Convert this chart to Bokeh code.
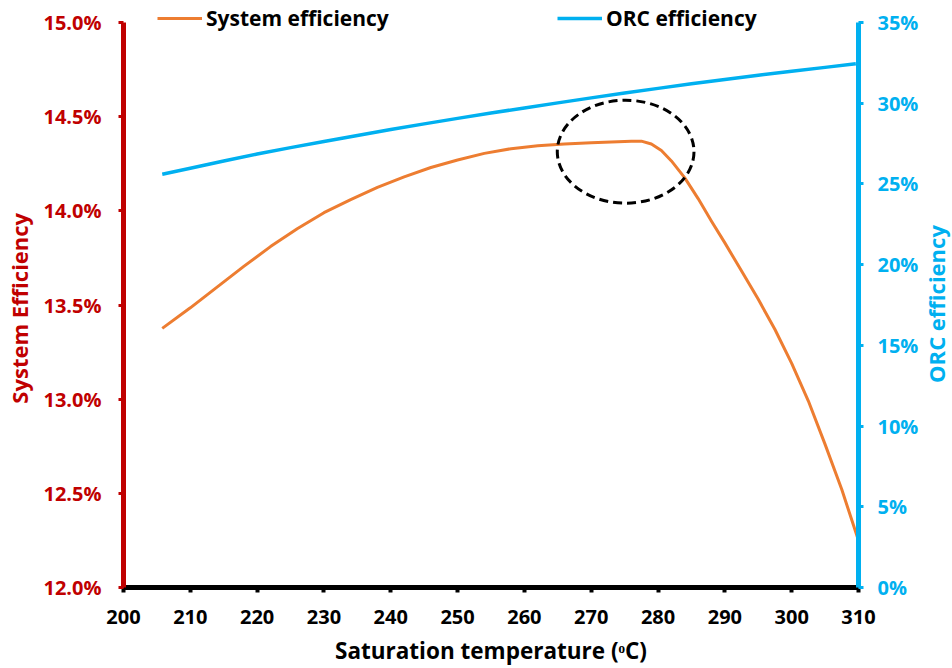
import math
from bokeh.plotting import figure
from bokeh.models import (Range1d, LinearAxis, FixedTicker, PrintfTickFormatter, Legend,
                          LegendItem, Label)
from bokeh.embed import file_html
from bokeh.resources import INLINE

# ---- data ----
sys_temp = [205.8, 210, 214, 218, 222, 226, 230, 234, 238, 242, 246, 250, 254, 258, 262, 266,
            270, 274, 276, 277.5, 279, 280.5, 282, 284, 286, 288, 290, 292.5, 295, 297.5, 300,
            302.5, 305, 307.5, 310]
sys_eff = [13.376, 13.485, 13.595, 13.705, 13.81, 13.905, 13.99, 14.06, 14.125, 14.18, 14.23,
           14.27, 14.305, 14.33, 14.345, 14.355, 14.362, 14.367, 14.369, 14.37, 14.355, 14.32,
           14.265, 14.175, 14.065, 13.945, 13.83, 13.68, 13.53, 13.37, 13.19, 12.99, 12.76,
           12.52, 12.25]

orc_temp = [205.8, 210, 215, 220, 225, 230, 235, 240, 245, 250, 255, 260, 265, 270, 275, 280,
            285, 290, 295, 300, 305, 309.6]
orc_eff = [25.6, 25.97, 26.42, 26.85, 27.25, 27.63, 28.0, 28.37, 28.72, 29.06, 29.39, 29.71,
           30.02, 30.33, 30.63, 30.92, 31.2, 31.47, 31.73, 31.98, 32.22, 32.45]

x_ticks = [200, 210, 220, 230, 240, 250, 260, 270, 280, 290, 300, 310]
left_ticks = [12.0, 12.5, 13.0, 13.5, 14.0, 14.5, 15.0]
right_ticks = [0, 5, 10, 15, 20, 25, 30, 35]
x_bounds = (200, 310)
left_bounds = (12.0, 15.0)
right_bounds = (0, 35)

ellipse_x = [275.15]
ellipse_y = [14.314]
ellipse_w = [20.46]
ellipse_h = [0.547]

RED = "#C00000"
BLUE = "#00B0F0"
ORANGE = "#ED7D31"
FONT = "Open Sans"
NBSP = "\u00a0"

# frame spans the full height above the x axis; axes are bounded to their value range
FRAME_W = 735
FRAME_H = 587
AXIS_H = 565
left_top = left_bounds[0] + (left_bounds[1] - left_bounds[0]) * FRAME_H / AXIS_H
right_top = right_bounds[0] + (right_bounds[1] - right_bounds[0]) * FRAME_H / AXIS_H

p = figure(width=952, height=668, x_range=Range1d(*x_bounds),
           y_range=Range1d(left_bounds[0], left_top),
           output_backend="svg", toolbar_location=None,
           min_border_left=123, min_border_right=94, min_border_top=0, min_border_bottom=81)
p.extra_y_ranges = {"orc": Range1d(right_bounds[0], right_top)}
p.outline_line_color = None
p.xgrid.visible = False
p.ygrid.visible = False
p.background_fill_color = "white"
p.border_fill_color = "white"

r_orc = p.line(orc_temp, orc_eff, y_range_name="orc", line_color=BLUE, line_width=3.5,
               line_join="round")
r_sys = p.line(sys_temp, sys_eff, line_color=ORANGE, line_width=3, line_join="round")
p.ellipse(x=ellipse_x, y=ellipse_y, width=ellipse_w, height=ellipse_h,
          fill_color=None, line_color="black", line_width=3, line_dash="9 5")

def style_axis(ax, color, label, tick_w):
    ax.axis_line_color = color
    ax.axis_line_width = 5
    ax.major_tick_line_color = color
    ax.major_tick_line_width = tick_w
    ax.major_tick_in = 0
    ax.major_tick_out = 5
    ax.minor_tick_line_color = None
    ax.major_label_text_font = FONT
    ax.major_label_text_font_style = "bold"
    ax.major_label_text_font_size = "20px"
    ax.major_label_text_color = color
    ax.axis_label = label
    ax.axis_label_text_font = FONT
    ax.axis_label_text_font_style = "bold"
    ax.axis_label_text_font_size = "22px"
    ax.axis_label_text_color = color

# x axis
xa = p.xaxis[0]
xa.ticker = FixedTicker(ticks=x_ticks)
style_axis(xa, "black", "Saturation temperature (ᵒC)", 4)
xa.axis_label_text_font_size = "22.5px"
xa.major_label_standoff = 17
xa.axis_label_standoff = 8

# left axis
ya = p.yaxis[0]
ya.ticker = FixedTicker(ticks=left_ticks)
ya.bounds = left_bounds
ya.formatter = PrintfTickFormatter(format="%.1f%%")
style_axis(ya, RED, "System Efficiency" + NBSP * 5, 3)
ya.major_label_standoff = 17
ya.axis_label_standoff = 6

# right axis: ticks only; its title is a label that reads bottom to top
ra = LinearAxis(y_range_name="orc", ticker=FixedTicker(ticks=right_ticks),
                formatter=PrintfTickFormatter(format="%d%%"), bounds=right_bounds)
style_axis(ra, BLUE, None, 3)
ra.major_label_standoff = 14
p.add_layout(ra, "right")

# position of the right title, derived from the frame geometry (77 px right of the axis)
px_per_x = FRAME_W / (x_bounds[1] - x_bounds[0])
px_per_y = AXIS_H / (left_bounds[1] - left_bounds[0])
title_x = x_bounds[1] + 77 / px_per_x
title_y = left_bounds[0] + (FRAME_H - 303.5) / px_per_y
orc_title = Label(x=title_x, y=title_y, text="ORC efficiency", angle=math.pi / 2,
                  angle_units="rad", text_align="center", text_baseline="middle",
                  text_font=FONT, text_font_style="bold", text_font_size="22px",
                  text_color=BLUE)
p.add_layout(orc_title, "right")

def make_legend(label, renderer, loc):
    lg = Legend(items=[LegendItem(label=label, renderers=[renderer])], location=loc,
                orientation="horizontal", glyph_width=45, glyph_height=20, label_standoff=4,
                padding=0, margin=0, border_line_color=None, background_fill_alpha=0,
                label_text_font=FONT, label_text_font_style="bold", label_text_font_size="21px",
                label_text_color="black", label_height=20)
    p.add_layout(lg, "center")

make_legend("System efficiency", r_sys, (34, 555))
make_legend("ORC efficiency", r_orc, (434, 555))

open("out.html", "w").write(file_html(p, INLINE))
